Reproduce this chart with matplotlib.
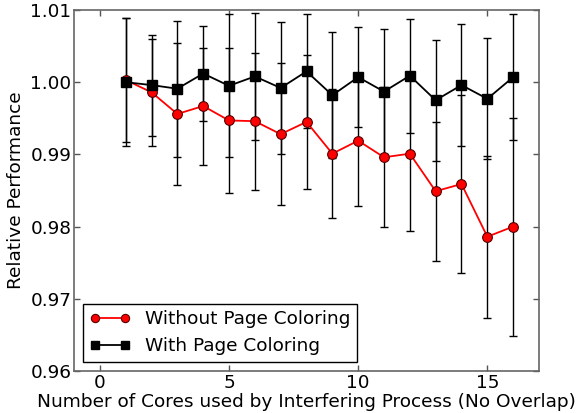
import matplotlib
matplotlib.use("Agg")
import matplotlib.pyplot as plt
import numpy as np

cores = [1, 2, 3, 4, 5, 6, 7, 8, 9, 10, 11, 12, 13, 14, 15, 16]
without_pc = [1.0003, 0.9986, 0.9956, 0.9967, 0.9947, 0.9946, 0.9928, 0.9945,
              0.9901, 0.9919, 0.9896, 0.9901, 0.9849, 0.9859, 0.9786, 0.9800]
without_err = [0.0086, 0.0074, 0.0098, 0.0081, 0.0101, 0.0095, 0.0098, 0.0093,
               0.0089, 0.0090, 0.0097, 0.0107, 0.0096, 0.0123, 0.0112, 0.0151]
with_pc = [1.0000, 0.9996, 0.9991, 1.0012, 0.9995, 1.0008, 0.9992, 1.0015,
           0.9982, 1.0007, 0.9987, 1.0009, 0.9975, 0.9996, 0.9977, 1.0007]
with_err = [0.0089, 0.0070, 0.0094, 0.0066, 0.0099, 0.0088, 0.0091, 0.0079,
            0.0087, 0.0069, 0.0087, 0.0079, 0.0084, 0.0085, 0.0084, 0.0087]

xticks = [0, 5, 10, 15]
yticks = [0.96, 0.97, 0.98, 0.99, 1.00, 1.01]

fig = plt.figure(figsize=(5.83, 4.13), dpi=100)
ax = fig.add_axes([0.127, 0.1017, 0.7975, 0.8741])

ax.errorbar(cores, without_pc, yerr=without_err, fmt='none', ecolor='black',
            elinewidth=1, capsize=3, capthick=1, zorder=2)
ax.errorbar(cores, with_pc, yerr=with_err, fmt='none', ecolor='black',
            elinewidth=1, capsize=3, capthick=1, zorder=2)
ax.plot(cores, without_pc, color='red', marker='o', markersize=7,
        markerfacecolor='red', markeredgecolor='#550000', markeredgewidth=0.8,
        linewidth=1.3, label='Without Page Coloring', zorder=3)
ax.plot(cores, with_pc, color='black', marker='s', markersize=7,
        markerfacecolor='black', markeredgecolor='black',
        linewidth=1.3, label='With Page Coloring', zorder=3)

ax.set_xlim(-1, 17)
ax.set_ylim(0.96, 1.01)
ax.set_xticks(xticks)
ax.set_yticks(yticks)
ax.set_yticklabels(['%.2f' % v for v in yticks])
ax.tick_params(direction='in', top=True, right=True, labelsize=13.3,
               length=4, width=1, color='#555555')
ax.tick_params(axis='x', pad=2)
ax.tick_params(axis='y', pad=2)
for s in ax.spines.values():
    s.set_color('#666666')
    s.set_linewidth(1.2)

ax.set_xlabel('Number of Cores used by Interfering Process (No Overlap)',
              fontsize=13.3, labelpad=1)
ax.set_ylabel('Relative Performance', fontsize=13.3, labelpad=4)

leg = ax.legend(loc='lower left', fontsize=13.3, fancybox=False,
                edgecolor='black', framealpha=1, borderaxespad=0.5,
                handlelength=2.2, numpoints=2, borderpad=0.35,
                markerscale=0.85)
leg.get_frame().set_linewidth(1)

fig.savefig('out.png', dpi=100)
